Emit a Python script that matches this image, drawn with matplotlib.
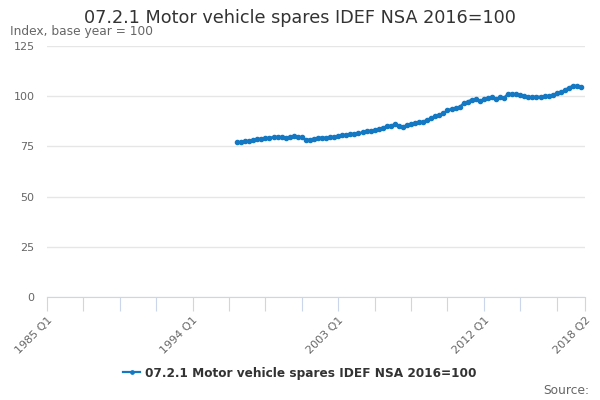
import matplotlib
matplotlib.use("Agg")
import matplotlib.pyplot as plt
import numpy as np

# Quarterly categories 1985 Q1 .. 2018 Q2
years = list(range(1985, 2019))
categories = [f"{y} Q{q}" for y in years for q in range(1, 5)][:134]

series_name = "07.2.1 Motor vehicle spares IDEF NSA 2016=100"
start_label = "1996 Q4"
values = [
    77.0, 77.2, 77.5, 77.9, 78.3, 78.7, 78.8, 79.0, 79.4, 79.6,
    79.8, 79.6, 79.4, 79.5, 80.2, 79.8, 79.5, 78.3, 78.4, 78.9,
    79.3, 79.4, 79.3, 79.6, 79.9, 80.2, 80.6, 80.9, 81.2, 81.3,
    81.5, 82.0, 82.8, 82.7, 83.1, 83.8, 84.3, 85.0, 85.4, 86.0,
    85.3, 84.8, 85.6, 86.2, 86.8, 87.0, 87.4, 88.2, 89.2, 90.1,
    90.6, 91.4, 93.0, 93.7, 94.0, 94.6, 96.5, 97.3, 98.3, 98.4,
    97.8, 98.4, 99.0, 99.4, 98.5, 99.6, 99.2, 101.3, 101.0, 101.1,
    100.7, 100.3, 99.4, 99.6, 99.8, 99.7, 100.0, 100.2, 100.7, 101.4,
    102.0, 103.0, 104.3, 105.1, 105.2, 104.8,
]
tick_labels = ["1985 Q1", "1994 Q1", "2003 Q1", "2012 Q1", "2018 Q2"]
yticks = [0, 25, 50, 75, 100, 125]

start = categories.index(start_label)
x = np.arange(start, start + len(values))

color = "#1479c2"
fig = plt.figure(figsize=(6, 4), dpi=100)
ax = fig.add_axes([47/600, 1-297/400, 538/600, 251/400])

ax.plot(x, values, color=color, lw=1.6, marker="o", ms=3, label=series_name, zorder=3)

ax.set_xlim(0, len(categories) - 1)
ax.set_ylim(0, 125)
ax.set_yticks(yticks)
ax.grid(axis="y", color="#e6e6e6", lw=1)
ax.set_axisbelow(True)
for s in ["top", "right", "left"]:
    ax.spines[s].set_visible(False)
ax.spines["bottom"].set_color("#ccd6eb")
ax.tick_params(axis="y", length=0, pad=9, labelsize=8, labelcolor="#666666")

minor = list(range(0, len(categories), 9)) + [len(categories) - 1]
ax.set_xticks(minor)
ax.set_xticklabels([categories[i] if categories[i] in tick_labels else "" for i in minor],
                   rotation=45, ha="right", va="top", rotation_mode="anchor")
ax.tick_params(axis="x", direction="out", length=10, color="#ccd6eb", labelsize=8,
               labelcolor="#666666", pad=3)

fig.text(0.5, 0.955, series_name, ha="center", va="center", fontsize=12.7, color="#333333")
fig.text(10/600, 1-32/400, "Index, base year = 100", ha="left", va="center", fontsize=8.8, color="#666666")
fig.text(589/600, 1-390/400, "Source:", ha="right", va="center", fontsize=8.8, color="#666666")

leg = fig.legend(loc="center", bbox_to_anchor=(0.5, 1-373/400), frameon=False,
                 prop={"weight": "bold", "size": 8.7}, handlelength=1.4, handletextpad=0.4,
                 markerscale=0.8)
for t in leg.get_texts():
    t.set_color("#333333")

fig.savefig("out.png", dpi=100)
